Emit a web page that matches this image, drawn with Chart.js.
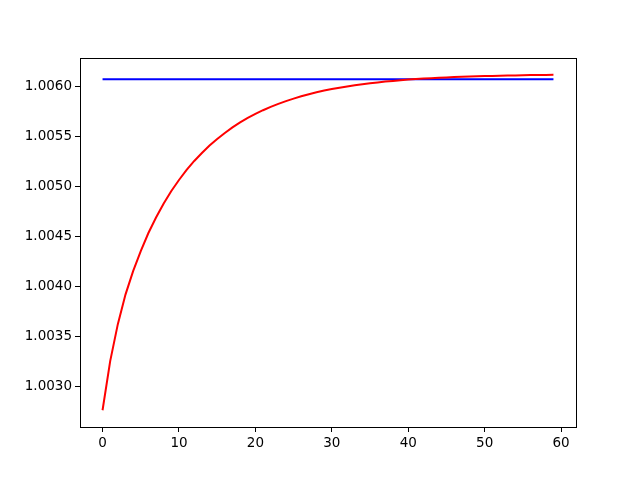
<!DOCTYPE html>
<html>
<head>
<meta charset="utf-8">
<script src="https://cdn.jsdelivr.net/npm/chart.js@4/dist/chart.umd.min.js"></script>
<style>
    body { margin: 0; background: #fff; }
    #wrap { width: 640px; height: 480px; }
</style>
</head>
<body>
<div id="wrap"><canvas id="chartCanvas" width="640" height="480"></canvas></div>
<script>
// step index 0..59
const steps = [
    0, 1, 2, 3, 4, 5, 6, 7, 8, 9,
    10, 11, 12, 13, 14, 15, 16, 17, 18, 19,
    20, 21, 22, 23, 24, 25, 26, 27, 28, 29,
    30, 31, 32, 33, 34, 35, 36, 37, 38, 39,
    40, 41, 42, 43, 44, 45, 46, 47, 48, 49,
    50, 51, 52, 53, 54, 55, 56, 57, 58, 59
];

// red curve
const redValues = [
    1.002762, 1.003252, 1.003622, 1.003917, 1.004152, 1.004352, 1.004532, 1.004687, 1.004827, 1.004952,
    1.005062, 1.005162, 1.005252, 1.005332, 1.005407, 1.005472, 1.005532, 1.005587, 1.005637, 1.005682,
    1.005722, 1.005759, 1.005792, 1.005822, 1.005850, 1.005875, 1.005898, 1.005919, 1.005938, 1.005955,
    1.005970, 1.005984, 1.005997, 1.006009, 1.006019, 1.006029, 1.006037, 1.006045, 1.006052, 1.006059,
    1.006065, 1.006070, 1.006075, 1.006079, 1.006083, 1.006087, 1.006090, 1.006093, 1.006096, 1.006098,
    1.006100, 1.006102, 1.006104, 1.006106, 1.006107, 1.006109, 1.006110, 1.006111, 1.006112, 1.006113
];

// blue flat line
const blueLevel = 1.006068;
const blueValues = steps.map(() => blueLevel);

const xTicks = [0, 10, 20, 30, 40, 50, 60];
const yTicks = [1.0030, 1.0035, 1.0040, 1.0045, 1.0050, 1.0055, 1.0060];

const toPoints = (vals) => steps.map((s, i) => ({x: s, y: vals[i]}));

// frame round the plot area (top/right spines too)
const framePlugin = {
    id: 'frame',
    afterDraw(chart) {
        const {ctx, chartArea: a} = chart;
        ctx.save();
        ctx.strokeStyle = '#000';
        ctx.lineWidth = 1;
        ctx.strokeRect(Math.round(a.left) + 0.5, Math.round(a.top) + 0.5,
            Math.round(a.right - a.left), Math.round(a.bottom - a.top));
        ctx.restore();
    }
};

const tickFont = {family: 'DejaVu Sans', size: 13.5};

new Chart(document.getElementById('chartCanvas'), {
    type: 'line',
    data: {
        datasets: [
            {
                data: toPoints(redValues),
                borderColor: '#ff0000',
                borderWidth: 2,
                pointRadius: 0,
                tension: 0,
                fill: false
            },
            {
                data: toPoints(blueValues),
                borderColor: '#0000ff',
                borderWidth: 2,
                pointRadius: 0,
                tension: 0,
                fill: false
            }
        ]
    },
    options: {
        responsive: false,
        animation: false,
        layout: {padding: {top: 58, right: 64, left: 0, bottom: 0}},
        plugins: {legend: {display: false}, tooltip: {enabled: false}},
        scales: {
            x: {
                type: 'linear',
                min: -2.95,
                max: 61.95,
                afterBuildTicks: (scale) => { scale.ticks = xTicks.map(v => ({value: v})); },
                afterFit: (scale) => { scale.height = 53; },
                grid: {display: true, drawOnChartArea: false, drawTicks: true, tickLength: 5, color: '#000'},
                border: {display: true, color: '#000'},
                ticks: {color: '#000', font: tickFont, padding: 3, maxRotation: 0,
                    callback: (v) => String(v)}
            },
            y: {
                type: 'linear',
                min: 1.0025944,
                max: 1.0062806,
                afterBuildTicks: (scale) => { scale.ticks = yTicks.map(v => ({value: v})); },
                afterFit: (scale) => { scale.width = 80; },
                grid: {display: true, drawOnChartArea: false, drawTicks: true, tickLength: 5, color: '#000'},
                border: {display: true, color: '#000'},
                ticks: {color: '#000', font: tickFont, padding: 3,
                    callback: (v) => Number(v).toFixed(4)}
            }
        }
    },
    plugins: [framePlugin]
});
</script>
</body>
</html>
